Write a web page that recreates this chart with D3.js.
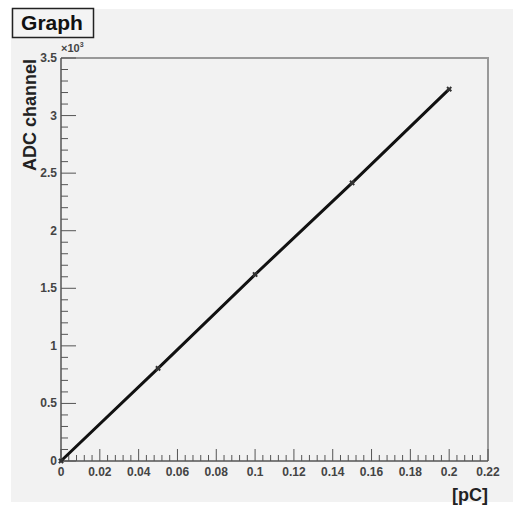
<!DOCTYPE html>
<html>
<head>
<meta charset="utf-8">
<script src="https://cdn.jsdelivr.net/npm/d3@7"></script>
<style>
  body { margin: 0; background: #fff; }
  text { font-family: "Liberation Sans", Arial, sans-serif; font-weight: bold; }
</style>
</head>
<body>
<svg id="chart" width="513" height="506"></svg>
<script>
// data
const charge = [0, 0.05, 0.1, 0.15, 0.2]        // [pC]
const adc = [0, 805, 1620, 2415, 3230]          // ADC channel
const xTicks = [0, 0.02, 0.04, 0.06, 0.08, 0.1, 0.12, 0.14, 0.16, 0.18, 0.2, 0.22]
const yTicks = [0, 500, 1000, 1500, 2000, 2500, 3000, 3500]

const svg = d3.select('#chart')
const frameLeft = 61, frameRight = 488, frameTop = 58, frameBottom = 461

svg.append('rect')
  .attr('x', 11).attr('y', 9).attr('width', 502).attr('height', 493)
  .attr('fill', '#f2f2f2')

const x = d3.scaleLinear().domain([0, 0.22]).range([frameLeft, frameRight])
const y = d3.scaleLinear().domain([0, 3500]).range([frameBottom, frameTop])

// frame (top and right)
svg.append('path')
  .attr('d', `M${frameLeft},${frameTop}H${frameRight}V${frameBottom}`)
  .attr('fill', 'none')
  .attr('stroke', '#999')
  .attr('stroke-width', 2)

function drawXAxis() {
  const g = svg.append('g').attr('class', 'x-axis')
  const minor = d3.range(0, 0.2201, 0.004)
  g.selectAll('.minor').data(minor).join('line')
    .attr('x1', d => x(d)).attr('x2', d => x(d))
    .attr('y1', frameBottom).attr('y2', (d, i) => i % 5 === 0 ? frameBottom - 12 : frameBottom - 6)
    .attr('stroke', '#555').attr('stroke-width', 1)
  g.append('line')
    .attr('x1', frameLeft).attr('x2', frameRight).attr('y1', frameBottom).attr('y2', frameBottom)
    .attr('stroke', '#555').attr('stroke-width', 1.5)
  g.selectAll('.lbl').data(xTicks).join('text')
    .attr('x', d => x(d)).attr('y', frameBottom + 15)
    .attr('text-anchor', 'middle')
    .attr('font-size', 12).attr('fill', '#444')
    .text(d => d3.format('~g')(d))
  g.append('text')
    .attr('x', frameRight).attr('y', 501)
    .attr('text-anchor', 'end')
    .attr('font-size', 18).attr('fill', '#222')
    .text('[pC]')
}

function drawYAxis() {
  const g = svg.append('g').attr('class', 'y-axis')
  const minor = d3.range(0, 3501, 100)
  g.selectAll('.minor').data(minor).join('line')
    .attr('y1', d => y(d)).attr('y2', d => y(d))
    .attr('x1', frameLeft).attr('x2', (d, i) => i % 5 === 0 ? frameLeft + 15 : frameLeft + 7)
    .attr('stroke', '#555').attr('stroke-width', 1)
  g.append('line')
    .attr('x1', frameLeft).attr('x2', frameLeft).attr('y1', frameTop).attr('y2', frameBottom)
    .attr('stroke', '#555').attr('stroke-width', 1.5)
  g.selectAll('.lbl').data(yTicks).join('text')
    .attr('x', frameLeft - 4).attr('y', d => y(d) + 4)
    .attr('text-anchor', 'end')
    .attr('font-size', 12).attr('fill', '#444')
    .text(d => d3.format('~g')(d / 1000))
  const exp = g.append('text')
    .attr('x', frameLeft).attr('y', frameTop - 6)
    .attr('font-size', 11).attr('fill', '#444')
  exp.append('tspan').text('\u00d710')
  exp.append('tspan').attr('font-size', 7).attr('dy', -5).text('3')
  g.append('text')
    .attr('transform', `translate(36,${frameTop + 1}) rotate(-90)`)
    .attr('text-anchor', 'end')
    .attr('font-size', 18).attr('fill', '#222')
    .text('ADC channel')
}

drawXAxis()
drawYAxis()

// the graph line
const line = d3.line().x((d, i) => x(charge[i])).y(d => y(d))
svg.append('path')
  .datum(adc)
  .attr('d', line)
  .attr('fill', 'none')
  .attr('stroke', '#111')
  .attr('stroke-width', 3)

// star markers
const star = d3.symbol().type(d3.symbolCross).size(20)
svg.selectAll('.marker').data(adc).join('path')
  .attr('class', 'marker')
  .attr('transform', (d, i) => `translate(${x(charge[i])},${y(d)}) rotate(45)`)
  .attr('d', star)
  .attr('fill', '#333')

// title box
const tg = svg.append('g').attr('class', 'title')
tg.append('rect')
  .attr('x', 12.5).attr('y', 8.5).attr('width', 81).attr('height', 29)
  .attr('fill', '#f4f4f4').attr('stroke', '#222').attr('stroke-width', 1.5)
tg.append('text')
  .attr('x', 52).attr('y', 30)
  .attr('text-anchor', 'middle')
  .attr('font-size', 21).attr('fill', '#111')
  .text('Graph')
</script>
</body>
</html>
